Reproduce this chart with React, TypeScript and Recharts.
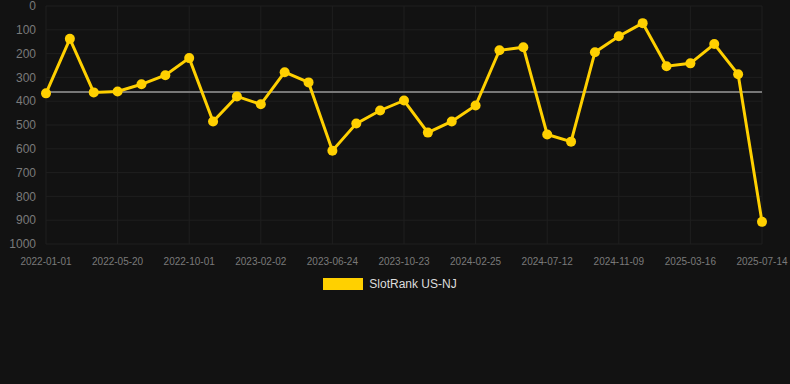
import {
  LineChart,
  Line,
  XAxis,
  YAxis,
  CartesianGrid,
  Legend,
  ReferenceLine,
} from "recharts";

const dates = [
  "2022-01-01", "2022-02-16", "2022-04-04", "2022-05-20", "2022-07-05",
  "2022-08-16", "2022-10-01", "2022-11-10", "2022-12-22", "2023-02-02",
  "2023-03-18", "2023-05-08", "2023-06-24", "2023-08-08", "2023-09-14",
  "2023-10-23", "2023-12-04", "2024-01-14", "2024-02-25", "2024-04-11",
  "2024-05-27", "2024-07-12", "2024-08-24", "2024-10-01", "2024-11-09",
  "2024-12-24", "2025-02-01", "2025-03-16", "2025-04-28", "2025-06-01",
  "2025-07-14",
];

const ranks = [
  367, 138, 363, 359, 329, 291, 219, 485, 380, 413, 278, 321, 608, 494, 439,
  397, 532, 485, 418, 186, 173, 540, 570, 194, 127, 72, 253, 241, 160, 287,
  907,
];

const averageRank = 361;
const yTicks = [0, 100, 200, 300, 400, 500, 600, 700, 800, 900, 1000];

const chartData = dates.map((date, i) => ({ date, rank: ranks[i] }));

const font = "'Liberation Sans', Arial, sans-serif";

const LegendContent = () => (
  <div style={{ display: "flex", justifyContent: "center", alignItems: "center", fontFamily: font }}>
    <div style={{ width: 40, height: 12, background: "#FFD000", marginRight: 6 }} />
    <span style={{ color: "#dddddd", fontSize: 12 }}>SlotRank US-NJ</span>
  </div>
);

const App = () => {
  return (
    <div style={{ position: "fixed", inset: 0, background: "#121212" }}>
      <LineChart
        width={790}
        height={384}
        data={chartData}
        margin={{ top: 6, right: 28, left: 0, bottom: 96 }}
      >
        <CartesianGrid stroke="#1f1f1f" strokeWidth={1} />
        <XAxis
          dataKey="date"
          interval={2}
          tickLine={false}
          axisLine={false}
          tickMargin={8}
          height={30}
          tick={{ fill: "#7a7a7a", fontSize: 10, fontFamily: font }}
        />
        <YAxis
          reversed
          domain={[0, 1000]}
          ticks={yTicks}
          interval={0}
          width={46}
          tickLine={false}
          axisLine={false}
          tickMargin={4}
          tick={{ fill: "#7a7a7a", fontSize: 12, fontFamily: font }}
        />
        <ReferenceLine y={averageRank} stroke="#777" strokeWidth={2} />
        <Line
          type="linear"
          dataKey="rank"
          stroke="#FFD000"
          strokeWidth={3}
          dot={{ r: 5, fill: "#FFD000", stroke: "#FFD000", strokeWidth: 0 }}
          isAnimationActive={false}
        />
        <Legend
          content={<LegendContent />}
          wrapperStyle={{ position: "absolute", top: 277, left: 0, width: 780, height: 14 }}
        />
      </LineChart>
    </div>
  );
};

export default App;
